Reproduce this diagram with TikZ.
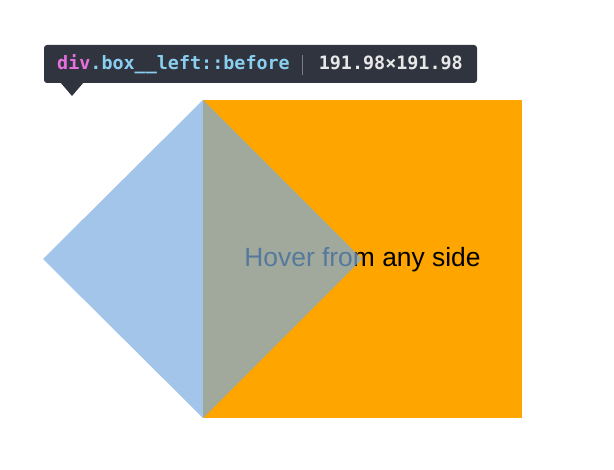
\documentclass[tikz,border=0pt]{standalone}
\usepackage{fontspec}
\setmainfont{Liberation Sans}
\newfontfamily\codefont{DejaVu Sans Mono}
\usetikzlibrary{positioning}
\definecolor{boxorange}{RGB}{255,165,0}
\definecolor{boxblue}{RGB}{122,172,224}
\definecolor{tipdark}{RGB}{48,52,62}
\definecolor{tagpink}{RGB}{232,112,222}
\definecolor{tagblue}{RGB}{138,206,240}
\definecolor{tiptext}{RGB}{232,232,232}
\definecolor{tipline}{RGB}{120,124,132}
\begin{document}
\begin{tikzpicture}[
  x = 1pt,
  y = -1pt,
  box/.style = {
    fill = boxorange
  },
  before/.style = {
    fill = boxblue,
    fill opacity = 0.7
  },
  tooltip/.style = {
    shape = rectangle,
    fill = tipdark,
    rounded corners = 3pt,
    minimum width = 433pt,
    minimum height = 38pt,
    inner sep = 0pt
  },
  code/.style = {
    font = \codefont\bfseries\fontsize{18.4}{20}\selectfont,
    inner sep = 0pt,
    anchor = base west
  },
  hover/.style = {
    font = \fontsize{26.4}{30}\selectfont,
    inner sep = 0pt,
    anchor = base
  }
]
  \useasboundingbox (0, 0) rectangle (614, 470);

  \fill[box] (203, 100) rectangle (522, 418);
  \node[hover] (label) at (362.5, 267) {Hover from any side};
  \fill[before] (43, 259) -- (203, 100) -- (362, 259) -- (203, 418) -- cycle;

  \node[tooltip] (tip) at (260.5, 64) {};
  \fill[tipdark] (60, 82) -- (72, 96) -- (84, 82) -- cycle;
  \node[code] (tag) at (57, 70)
    {\textcolor{tagpink}{div}\textcolor{tagblue}{.box\_\_left::before}};
  \coordinate (sep top) at (302, 55);
  \coordinate (sep bottom) at (302, 75);
  \draw[tipline, line width = 1pt] (sep top) -- (sep bottom);
  \node[code, anchor = base east, text = tiptext] (size) at (463, 70)
    {191.98×191.98};
\end{tikzpicture}
\end{document}
